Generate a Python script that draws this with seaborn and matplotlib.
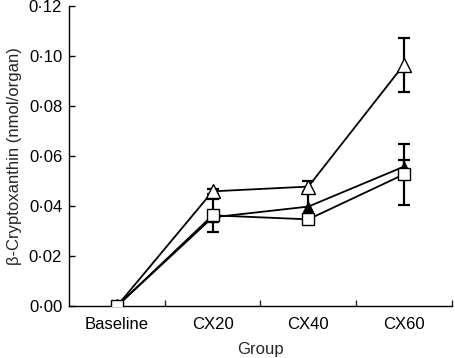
import numpy as np
import seaborn as sns
import matplotlib.pyplot as plt
from matplotlib.ticker import FuncFormatter

groups = ["Baseline", "CX20", "CX40", "CX60"]
open_tri = [0.0, 0.0459, 0.0478, 0.0966]
open_tri_err = [0.0, 0.001, 0.0022, 0.0108]
filled_tri = [0.0, 0.0355, 0.0398, 0.0558]
filled_tri_err = [0.0, 0.0, 0.0057, 0.0028]
square = [0.0, 0.0363, 0.0347, 0.0527]
square_err = [0.0, 0.0066, 0.001, 0.0122]

sns.set_theme(style="ticks")
plt.rcParams['font.family'] = ['Liberation Sans', 'DejaVu Sans']

fig = plt.figure(figsize=(4.55, 3.58), dpi=100)
ax = fig.add_axes([0.152, 0.145, 0.841, 0.838])

x = np.arange(len(groups))
series = [
    (open_tri, open_tri_err, "^", "white", 10),
    (filled_tri, filled_tri_err, "^", "black", 7.5),
    (square, square_err, "s", "white", 9),
]
for vals, err, mk, fc, ms in series:
    ax.errorbar(x, vals, yerr=err, fmt="none", ecolor="black", elinewidth=1.6,
                capsize=4.5, capthick=1.6, zorder=2)
    sns.lineplot(x=x, y=vals, ax=ax, color="black", linewidth=1.3, marker=mk,
                 markersize=ms, markerfacecolor=fc, markeredgecolor="black",
                 markeredgewidth=1.0, zorder=3)

ax.set_xlim(-0.5, 3.5)
ax.set_ylim(0, 0.12)
ax.set_xticks(x)
ax.set_xticklabels(groups)
ax.set_xticks([0.5, 1.5, 2.5, 3.5], minor=True)
ax.tick_params(axis="x", which="major", length=0, pad=8, labelsize=12, colors="black")
ax.tick_params(axis="x", which="minor", direction="in", length=4, width=1)
ax.set_yticks(np.arange(0, 0.121, 0.02))
ax.yaxis.set_major_formatter(FuncFormatter(lambda v, p: f"{v:.2f}".replace(".", "\u00b7")))
ax.tick_params(axis="y", direction="in", length=4, width=1, pad=5, labelsize=12, colors="black")

ax.set_xlabel("Group", fontsize=12, labelpad=7)
ax.set_ylabel("\u03b2-Cryptoxanthin (nmol/organ)", fontsize=12, labelpad=5)
sns.despine(ax=ax)
for s in ["left", "bottom"]:
    ax.spines[s].set_linewidth(1.0)
    ax.spines[s].set_color("black")

fig.savefig("out.png", dpi=100)
